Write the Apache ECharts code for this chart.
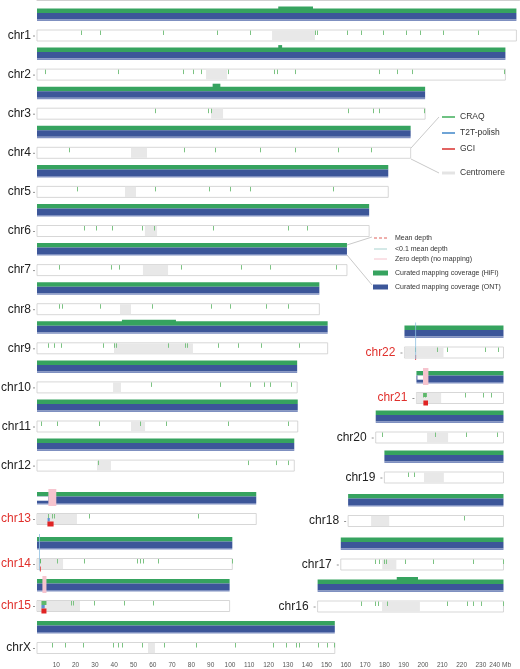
<!DOCTYPE html>
<html>
<head>
<meta charset="utf-8">
<script src="https://cdn.jsdelivr.net/npm/echarts@6/dist/echarts.min.js"></script>
<style>
  html, body { margin: 0; padding: 0; background: #fff; }
  #chart { width: 520px; height: 669px; }
</style>
</head>
<body>
<div id="chart"></div>
<script>
// chromosomes: left column first, then the right column (chr22 .. chr16)
const chromNames = ['chr1', 'chr2', 'chr3', 'chr4', 'chr5', 'chr6', 'chr7', 'chr8', 'chr9', 'chr10', 'chr11', 'chr12',
  'chr13', 'chr14', 'chr15', 'chrX', 'chr22', 'chr21', 'chr20', 'chr19', 'chr18', 'chr17', 'chr16'];
const chromLengths = [248.4, 242.7, 201.1, 193.6, 182.0, 172.1, 160.6, 146.3, 150.6, 134.8, 135.1, 133.3,
  113.6, 101.2, 99.8, 154.3, 51.3, 45.1, 66.2, 61.7, 80.5, 84.3, 96.3];
const acrocentric = ['chr13', 'chr14', 'chr15', 'chr21', 'chr22'];

// centromere [start, end] in Mb
const centromeres = [[121.8, 144], [87.6, 98.5], [90.2, 96.4], [48.7, 57], [45.6, 51.3], [55.9, 62.2], [54.9, 67.9],
  [43, 48.7], [39.9, 80.8], [39.4, 43.5], [48.7, 56], [31.1, 38.3], [0, 20.7], [0, 13.5], [0, 22.3], [57.5, 61.1],
  [0, 20.2], [0, 12.8], [26.6, 37.5], [20.5, 30.8], [11.9, 21.3], [21.5, 28.8], [33.4, 53]];

// CRAQ sites (Mb), same order as chromNames
const craqSites = [
  [22.8, 32.6, 65.3, 93.3, 110.4, 144, 145, 160.6, 167.9, 179.3, 191.2, 198.4, 210.4, 228.5],
  [4.1, 42, 75.6, 80.8, 85, 99, 122.8, 124.4, 133.7, 177.2, 186.5, 194.3, 242],
  [61.1, 88.6, 90.2, 161.1, 174.1, 177.2, 200.6],
  [16.5, 76, 92, 115.7, 133.8, 156, 173],
  [20.7, 61, 88.9, 100.2, 110.6, 153.4],
  [24.3, 30.5, 38.7, 54.2, 60.4, 91.4, 130.2, 140],
  [11.4, 38.2, 42.4, 74.4, 105.9, 120.9, 155],
  [11.4, 12.9, 32.5, 59.4, 89.9, 100.2, 118.8, 130.2],
  [5.7, 8.8, 12.4, 34.2, 39.9, 40.9, 67.9, 76.7, 77.7, 93.8, 104.1, 116.1, 136],
  [58.9, 95, 110.6, 117.8, 120.9, 131.7],
  [2.1, 10.3, 32, 53.2, 66.6, 99.2, 130.2],
  [31.5, 109.5, 124, 130.2],
  [5.7, 7.7, 8.8, 26.9, 83.4],
  [1.6, 10.4, 24.4, 51.8, 53.4, 54.9, 62.7, 100.8],
  [17.6, 18.6, 29.4, 45, 60],
  [7.8, 14.5, 23.8, 39.4, 42, 44, 54.4, 65.8, 82.4, 102.6, 122.3, 129, 134.2, 135.8, 145.6, 150.3, 154],
  [5.4, 16.8, 22, 41.7, 48.4],
  [3.4, 4.5, 25.2, 34.5, 38.7],
  [3.3, 30.7, 46.8, 62.9],
  [12.2, 15.3],
  [60],
  [17.7, 19.8, 22.4, 23.4, 33.3, 47.8, 68.5, 84],
  [22.5, 29.7, 31.3, 36, 67, 77.4, 80.5, 84.7, 96]
];

// [chrom, start, end]
const craqBlocks = [['chr14', 1.5, 2.0], ['chr15', 2.3, 4.9], ['chr21', 3.6, 5.4]];
const t2tPolish = [['chr13', 5.5, 6.6], ['chr15', 2.3, 4.0]];
const gciGaps = [['chr13', 5.4, 8.6], ['chr14', 1.5, 1.9], ['chr15', 2.3, 4.9], ['chr21', 3.6, 6.0], ['chr22', 5.6, 6.0]];
const zeroDepth = [['chr13', 5.9, 10], ['chr15', 2.8, 4.9], ['chr21', 3.4, 6.2]];
const lowDepth = [['chr14', 1.1, 1.4], ['chr22', 5.6, 6.0]];
// [chrom, start, end, fold of mean depth]
const hifiHigh = [['chr1', 125, 143, 1.4], ['chr2', 125, 127, 1.5], ['chr3', 91, 95, 1.6], ['chr9', 44, 72, 1.3], ['chr16', 41, 52, 1.5]];
const ontLow = [['chr13', 0, 5.9, 0.35], ['chr21', 0.5, 3.4, 0.35]];

// x-axis ticks (Mb)
const axisMax = 250;
const axisStep = 10;

// ---- layout (pixels), kept apart from the data ----
const rowY = [35.5, 74.6, 113.7, 152.8, 191.9, 231, 270.1, 309.2, 348.3, 387.4, 426.5, 465.6, 519, 564, 606, 648,
  352.5, 398, 437.5, 477.5, 521, 564.5, 606.5];
const rightEnd = 241.7;   // right column chromosomes end here on the shared axis
const BOX_H = 11, COV_GAP = 27, GREEN_H = 4.5, BLUE_H = 6.5;
const FONT = '"Liberation Sans", Arial, sans-serif';
const GREEN = '#36a35f', BLUE = '#3c5699';

function offsetOf(i) {
  return i >= 16 ? rightEnd - chromLengths[i] : 0;
}

function renderChrom(params, api) {
  const i = api.value(0);
  const name = chromNames[i];
  const off = offsetOf(i);
  const len = chromLengths[i];
  const px = mb => api.coord([off + mb, 0])[0];
  const yc = api.coord([0, rowY[i]])[1];
  const boxTop = yc - BOX_H / 2, boxBot = yc + BOX_H / 2;
  const covTop = yc - COV_GAP;
  const x0 = px(0), x1 = px(len);
  const kids = [];
  const rect = (a, b, y, h, fill) => kids.push({
    type: 'rect', shape: { x: px(a), y: y, width: Math.max(px(b) - px(a), 0.8), height: h }, style: { fill: fill }
  });
  const mine = arr => arr.filter(r => r[0] === name);

  // label
  kids.push({
    type: 'text',
    style: {
      text: name, x: x0 - (i >= 16 ? 9 : 6), y: yc, align: 'right', verticalAlign: 'middle',
      fontSize: 12, fontFamily: FONT, fill: acrocentric.includes(name) ? '#e0302c' : '#222'
    }
  });
  kids.push({ type: 'line', shape: { x1: x0 - 4, y1: yc + 0.5, x2: x0 - 2, y2: yc + 0.5 }, style: { stroke: '#777', lineWidth: 0.8 } });

  // coverage track
  mine(hifiHigh).forEach(r => {
    const h = (r[3] - 1) * 5;
    rect(r[1], r[2], covTop - h, h + 1, GREEN);
  });
  rect(0, len, covTop, GREEN_H, GREEN);
  rect(0, len, covTop + GREEN_H, BLUE_H, BLUE);
  rect(0, len, covTop + GREEN_H + BLUE_H, 1.5, '#7f90c0');
  mine(ontLow).forEach(r => {
    rect(r[1], r[2], covTop + GREEN_H, BLUE_H * (1 - r[3]), '#ffffff');
  });
  mine(zeroDepth).forEach(r => rect(r[1], r[2], covTop - 3, 17, '#f6c4ce'));

  // annotation box
  kids.push({
    type: 'rect', shape: { x: x0, y: boxTop, width: x1 - x0, height: BOX_H },
    style: { fill: '#fff', stroke: '#cdcdcd', lineWidth: 0.8 }
  });
  const c = centromeres[i];
  rect(c[0], c[1], boxTop + 0.4, BOX_H - 0.8, '#e8e8e8');
  craqSites[i].forEach(s => {
    const x = Math.round(px(s)) + 0.5;
    kids.push({ type: 'line', shape: { x1: x, y1: boxTop + 0.5, x2: x, y2: boxTop + 5 }, style: { stroke: '#7cc383', lineWidth: 1 } });
  });
  mine(craqBlocks).forEach(r => rect(r[1], r[2], boxTop + 0.5, 4, '#5cb86a'));
  mine(t2tPolish).forEach(r => rect(r[1], r[2], boxTop + 4.5, 3.5, '#5b8fd0'));
  mine(gciGaps).forEach(r => rect(r[1], r[2], boxBot - 3, 5, '#e02424'));
  mine(lowDepth).forEach(r => rect(r[1], r[2], covTop - 3, boxBot - covTop + 4, '#8fc0e2'));

  return { type: 'group', children: kids };
}

// legend drawings
const legendTop = [
  { label: 'CRAQ', color: '#3fae5a', y: 117, w: 1.5 },
  { label: 'T2T-polish', color: '#3f86c8', y: 133, w: 1.5 },
  { label: 'GCI', color: '#d8312e', y: 149, w: 1.5 },
  { label: 'Centromere', color: '#e4e4e4', y: 173, w: 3 }
];
const legendDepth = [
  { label: 'Mean depth', color: '#e0605a', y: 238, dash: [3, 2] },
  { label: '<0.1 mean depth', color: '#a8d3cf', y: 249 },
  { label: 'Zero depth (no mapping)', color: '#f5c2cc', y: 259 },
  { label: 'Curated mapping coverage (HiFi)', color: GREEN, y: 273, area: true },
  { label: 'Curated mapping coverage (ONT)', color: BLUE, y: 287, area: true }
];

const graphics = [
  { type: 'line', shape: { x1: 411, y1: 148, x2: 439, y2: 117 }, style: { stroke: '#c9c9c9', lineWidth: 1 } },
  { type: 'line', shape: { x1: 411, y1: 159, x2: 439, y2: 173 }, style: { stroke: '#c9c9c9', lineWidth: 1 } },
  { type: 'line', shape: { x1: 347, y1: 245, x2: 372, y2: 237 }, style: { stroke: '#c9c9c9', lineWidth: 1 } },
  { type: 'line', shape: { x1: 347, y1: 255, x2: 372, y2: 285 }, style: { stroke: '#c9c9c9', lineWidth: 1 } }
];
legendTop.forEach(l => {
  graphics.push({ type: 'line', shape: { x1: 442, y1: l.y, x2: 455, y2: l.y }, style: { stroke: l.color, lineWidth: l.w } });
  graphics.push({ type: 'text', style: { text: l.label, x: 460, y: l.y, verticalAlign: 'middle', fontSize: 8.5, fontFamily: FONT, fill: '#333' } });
});
legendDepth.forEach(l => {
  if (l.area) {
    graphics.push({ type: 'rect', shape: { x: 373, y: l.y - 2.5, width: 15, height: 5 }, style: { fill: l.color } });
  } else {
    graphics.push({ type: 'line', shape: { x1: 374, y1: l.y, x2: 387, y2: l.y }, style: { stroke: l.color, lineWidth: 1, lineDash: l.dash || null } });
  }
  graphics.push({ type: 'text', style: { text: l.label, x: 395, y: l.y, verticalAlign: 'middle', fontSize: 7, fontFamily: FONT, fill: '#333' } });
});

const myChart = echarts.init(document.getElementById('chart'));
myChart.setOption({
  animation: false,
  grid: { left: 37, right: 0.5, top: 0, bottom: 9 },
  xAxis: {
    type: 'value', min: 0, max: axisMax, interval: axisStep,
    axisLine: { lineStyle: { color: '#d0d0d0', width: 1 } },
    axisTick: { show: false },
    splitLine: { show: false },
    axisLabel: {
      fontSize: 6.5, color: '#555', margin: 2, fontFamily: FONT,
      showMinLabel: false, showMaxLabel: false,
      formatter: v => (v === 240 ? '240 Mb' : String(v))
    }
  },
  yAxis: { type: 'value', min: 0, max: 660, inverse: true, show: false },
  series: [{
    type: 'custom',
    renderItem: renderChrom,
    clip: false,
    silent: true,
    data: chromNames.map((n, i) => [i, rowY[i]])
  }],
  graphic: graphics
});
</script>
</body>
</html>
